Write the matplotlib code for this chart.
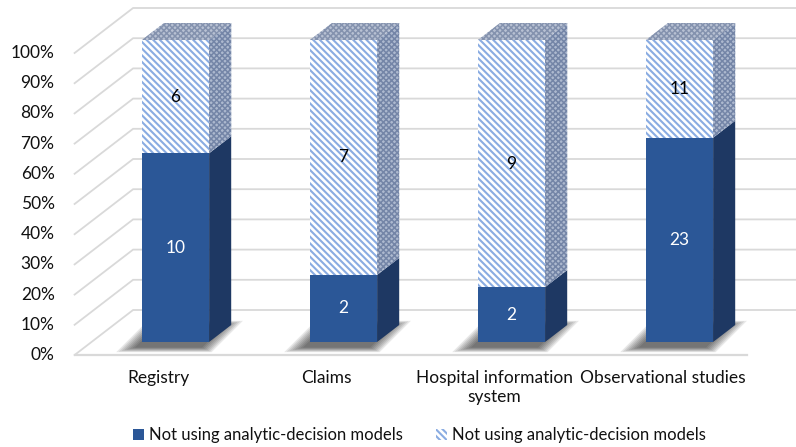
import matplotlib
matplotlib.use("Agg")
import matplotlib.pyplot as plt
import numpy as np
from matplotlib.patches import Polygon, Patch
from matplotlib.transforms import IdentityTransform

# data
categories = ["Registry", "Claims", "Hospital information\nsystem", "Observational studies"]
not_using = [10, 2, 2, 23]
using = [6, 7, 9, 11]
series_labels = ["Not using analytic-decision models", "Not using analytic-decision models"]
ticks = list(range(0, 101, 10))

BLUE = "#2b5797"
BLUE_SIDE = "#1e3863"
HATCH_BLUE = "#8aace2"
GRID = "#d9d9d9"
STRIPES = "\\" * 5

plt.rcParams["font.family"] = ["Lato", "DejaVu Sans"]
FS = 12.5

fig = plt.figure(figsize=(7.96, 4.47), dpi=100)
ax = fig.add_axes([0, 0, 1, 1])
ax.set_xlim(-175.5 / 168, (796 - 175.5) / 168)
ax.set_ylim(-105 / 302 * 100, (447 - 105) / 302 * 100)
ax.set_axis_off()

DX = 1.3          # oblique direction: x shift per unit of depth
Z_FRONT = -13     # front plane (labels, floor edge)
Z_BACK = 32       # back wall
DEPTH = 17        # bar depth
HALF = 0.2        # half bar width (category units)
ident = IdentityTransform()


def proj(x, y, z):
    px, py = ax.transData.transform((x, y))
    return (px + DX * z, py + z)


def face(pts, **kw):
    ax.add_patch(Polygon([proj(*p) for p in pts], closed=True,
                         transform=ident, **kw))


# walls and gridlines
for t in ticks:
    a = proj(-0.5, t, Z_FRONT)
    b = proj(-0.5, t, Z_BACK)
    c = proj(3.5, t, Z_BACK)
    ax.plot([a[0], b[0], c[0]], [a[1], b[1], c[1]], color=GRID, lw=1.3,
            transform=ident, zorder=1, solid_joinstyle="miter")
f1 = proj(-0.5, 0, Z_FRONT)
f2 = proj(3.5, 0, Z_FRONT)
ax.plot([f1[0], f2[0]], [f1[1], f2[1]], color=GRID, lw=1.6, transform=ident, zorder=1)

# tick labels
for t in ticks:
    px, py = proj(-0.5, t, Z_FRONT)
    ax.text(px - 20, py, f"{t}%", transform=ident, ha="right", va="center",
            fontsize=FS, color="#111111")

# category labels
for i, cat in enumerate(categories):
    px, py = proj(i, 0, Z_FRONT)
    ax.text(px, py - 15, cat, transform=ident, ha="center", va="top",
            fontsize=FS, color="#111111", multialignment="center")

# bars
for i, (a, b) in enumerate(zip(not_using, using)):
    p = a / (a + b) * 100
    x0, x1 = i - HALF, i + HALF

    # soft shadow on the floor
    base = np.array([proj(x0, 0, 0), proj(x1, 0, 0), proj(x1, 0, DEPTH), proj(x0, 0, DEPTH)])
    cen = base.mean(axis=0)
    for k in range(8):
        grow = 1 + k * 0.06
        pts = cen + (base - cen) * np.array([grow, grow * 1.3]) + np.array([-7, -3])
        ax.add_patch(Polygon(pts, closed=True, transform=ident, facecolor="black",
                             edgecolor="none", alpha=0.09, zorder=2))

    # blue segment
    face([(x0, 0, 0), (x1, 0, 0), (x1, p, 0), (x0, p, 0)],
         facecolor=BLUE, edgecolor="none", zorder=4)
    face([(x1, 0, 0), (x1, 0, DEPTH), (x1, p, DEPTH), (x1, p, 0)],
         facecolor=BLUE_SIDE, edgecolor="none", zorder=4)

    # hatched segment
    plt.rcParams["hatch.linewidth"] = 1.5
    face([(x0, p, 0), (x1, p, 0), (x1, 100, 0), (x0, 100, 0)],
         facecolor="white", edgecolor=HATCH_BLUE, lw=0, hatch=STRIPES, zorder=4)
    plt.rcParams["hatch.linewidth"] = 1.1
    face([(x1, p, 0), (x1, p, DEPTH), (x1, 100, DEPTH), (x1, 100, 0)],
         facecolor="#adb9cf", edgecolor="#7485a7", lw=0, hatch="xxxxxx", zorder=4)
    face([(x0, 100, 0), (x1, 100, 0), (x1, 100, DEPTH), (x0, 100, DEPTH)],
         facecolor="#b8c1d3", edgecolor="#8492ae", lw=0, hatch="xxxxxx", zorder=4)

    # value labels
    ax.text(i, p / 2, str(a), ha="center", va="center", fontsize=FS,
            color="white", zorder=6)
    ax.text(i, p + (100 - p) / 2, str(b), ha="center", va="center", fontsize=FS,
            color="black", zorder=6)

# legend
plt.rcParams["hatch.linewidth"] = 1.5
handles = [Patch(facecolor=BLUE, edgecolor="none", label=series_labels[0]),
           Patch(facecolor="white", edgecolor=HATCH_BLUE, lw=0, hatch=STRIPES,
                 label=series_labels[1])]
fig.legend(handles=handles, loc="center", bbox_to_anchor=(0.527, 0.027), ncol=2,
           frameon=False, fontsize=12, handlelength=0.65, handleheight=0.65,
           handletextpad=0.3, columnspacing=2.0, labelcolor="#111111")

fig.savefig("out.png", dpi=100)
